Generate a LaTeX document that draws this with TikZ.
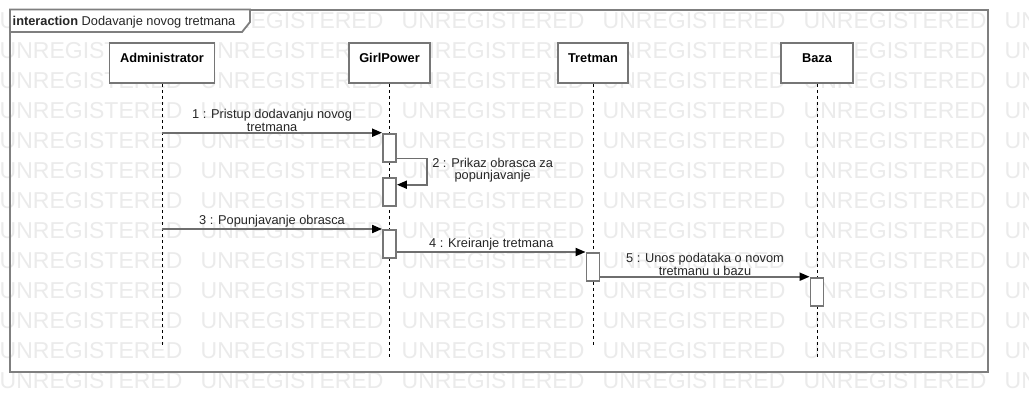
\documentclass[tikz,border=0pt]{standalone}
\usepackage{fontspec}
\setmainfont{Liberation Sans}
\usetikzlibrary{arrows.meta}
\definecolor{framegray}{HTML}{7F7F7F}
\definecolor{boxgray}{HTML}{767676}
\definecolor{msggray}{HTML}{6E6E6E}
\definecolor{markgray}{HTML}{EBEBEB}

\begin{document}
\begin{tikzpicture}[x=1pt, y=-1pt,
		head/.style={draw=boxgray, line width=1.8pt, fill=white, inner xsep=0pt, inner ysep=0pt, text height=19.5pt, text depth=20.5pt, font=\fontsize{12.8}{14}\selectfont\bfseries},
		activation/.style={draw=boxgray, line width=1.8pt, fill=white, minimum width=13pt, minimum height=28pt, inner sep=0pt},
		lifeline/.style={black, line width=0.9pt, dash pattern=on 3pt off 3pt},
		msg/.style={draw=msggray, line width=1.8pt, -{Triangle[length=10pt, width=8pt, color=black]}},
		lbl/.style={font=\fontsize{12.8}{12.3}\selectfont, text=black!85, align=center, inner sep=0.5pt},
		watermark/.style={font=\fontsize{23}{24}\selectfont, text=markgray, anchor=base west, inner sep=0pt}]
			%%%%% START %%%%%
			
			\clip (0, 0) rectangle (1029, 413);
			\fill[white] (0, 0) rectangle (1029, 413);
			
			% watermark rows
			\foreach \row in {0,...,12}
				\foreach \col in {0,...,5}
					\node[watermark] (wm-\row-\col) at ({201*\col-0.5}, {28.5+30*\row}) {UNREGISTERED};
			
			% frame and its title
			\draw[framegray, line width=2pt] (10, 9.5) rectangle (988, 372);
			\draw[framegray, line width=1.8pt, fill=white] (10, 9.5) -- (250, 9.5) -- (250, 22) -- (242, 32) -- (10, 32) -- cycle;
			\node[lbl, anchor=base west, inner sep=0pt] (title) at (12.5, 25) {\textbf{interaction} Dodavanje novog tretmana};
			
			% lifelines
			\node[head, minimum width=105pt] (admin) at (162, 63) {Administrator};
			\node[head, minimum width=81pt] (girl) at (389.5, 63) {GirlPower};
			\node[head, minimum width=70pt] (tretman) at (593, 63) {Tretman};
			\node[head, minimum width=72pt] (baza) at (817, 63) {Baza};
			
			\coordinate (adminend) at (162, 346);
			\coordinate (girlend) at (389.5, 357);
			\coordinate (tretmanend) at (593, 345);
			\coordinate (bazaend) at (817, 357);
			
			\draw[lifeline] (admin) -- (adminend);
			\draw[lifeline] (girl) -- (girlend);
			\draw[lifeline] (tretman) -- (tretmanend);
			\draw[lifeline] (baza) -- (bazaend);
			
			% activations
			\node[activation, anchor=north] (act1) at (389.5, 132.7) {};
			\node[activation, anchor=north] (act2) at (389.5, 176.7) {};
			\node[activation, anchor=north] (act3) at (389.5, 229) {};
			\node[activation, anchor=north] (act4) at (593, 252) {};
			\node[activation, anchor=north] (act5) at (817, 276.7) {};
			
			% messages
			\draw[msg] (admin |- act1.north west) -- (act1.north west) node[lbl, midway, above] {1 : Pristup dodavanju novog\\tretmana};
			\draw[msg] ([yshift=4pt]act1.south east) -- ++(30, 0) node[lbl, anchor=north west, xshift=4pt, yshift=2pt] {2 : Prikaz obrasca za\\popunjavanje} |- ([yshift=-8pt]act2.north east);
			\draw[msg] (admin |- act3.north west) -- (act3.north west) node[lbl, midway, above] {3 : Popunjavanje obrasca};
			\draw[msg] (act3.east |- act4.north west) -- (act4.north west) node[lbl, midway, above] {4 : Kreiranje tretmana};
			\draw[msg] (act4.east |- act5.north west) -- (act5.north west) node[lbl, midway, above] {5 : Unos podataka o novom\\tretmanu u bazu};
			
			%%%%% END %%%%%
\end{tikzpicture}
\end{document}
